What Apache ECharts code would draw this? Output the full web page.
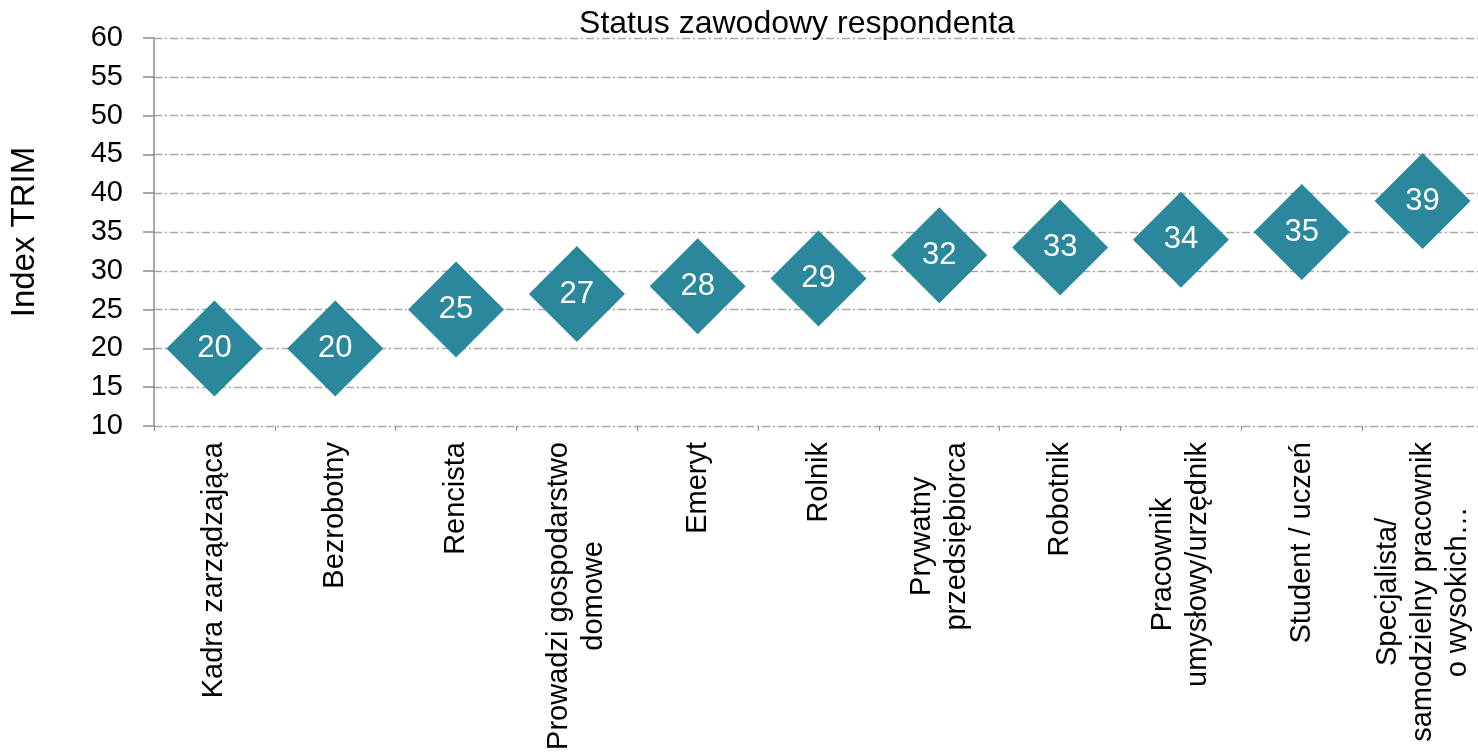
<!DOCTYPE html>
<html>
<head>
<meta charset="utf-8">
<script src="https://cdn.jsdelivr.net/npm/echarts@6/dist/echarts.min.js"></script>
<style>
  html, body { margin: 0; padding: 0; background: #fff; }
  #chart { width: 1478px; height: 756px; }
</style>
</head>
<body>
<div id="chart"></div>
<script>
const chartTitle = 'Status zawodowy respondenta';
const yAxisName = 'Index TRIM';
const categories = [
  'Kadra zarządzająca',
  'Bezrobotny',
  'Rencista',
  'Prowadzi gospodarstwo\ndomowe',
  'Emeryt',
  'Rolnik',
  'Prywatny\nprzedsiębiorca',
  'Robotnik',
  'Pracownik\numysłowy/urzędnik',
  'Student / uczeń',
  'Specjalista/\nsamodzielny pracownik\no wysokich…'
];
const values = [20, 20, 25, 27, 28, 29, 32, 33, 34, 35, 39];
const yMin = 10;
const yMax = 60;
const yStep = 5;

const FONT = '"Liberation Sans", Arial, sans-serif';
const chart = echarts.init(document.getElementById('chart'), null, { renderer: 'canvas' });

chart.setOption({
  animation: false,
  backgroundColor: '#ffffff',
  title: {
    text: chartTitle,
    left: 792,
    top: 3,
    textAlign: 'center',
    textStyle: { fontFamily: FONT, fontSize: 32, fontWeight: 'normal', color: '#000' }
  },
  grid: { left: 154, right: -5, top: 38, bottom: 330, containLabel: false, outerBoundsMode: 'none' },
  xAxis: {
    type: 'category',
    data: categories,
    boundaryGap: true,
    axisLine: { show: false },
    axisTick: { show: true, length: 5, lineStyle: { color: '#8c8c8c', width: 1 } },
    splitLine: { show: false },
    axisLabel: {
      interval: 0,
      rotate: 90,
      margin: 16,
      color: '#000',
      fontFamily: FONT,
      fontSize: 29,
      lineHeight: 35,
      hideOverlap: false,
      formatter: function (v) {
        return v.split('\n').map(function (l) { return '{c|' + l + '}'; }).join('\n');
      },
      rich: {
        c: { align: 'center', fontFamily: FONT, fontSize: 29, lineHeight: 35, color: '#000' }
      }
    }
  },
  yAxis: {
    type: 'value',
    min: yMin,
    max: yMax,
    interval: yStep,
    name: yAxisName,
    nameLocation: 'middle',
    nameRotate: 90,
    nameGap: 113,
    nameTextStyle: { fontFamily: FONT, fontSize: 33, color: '#000' },
    axisLine: { show: true, lineStyle: { color: '#8c8c8c', width: 1.5 } },
    axisTick: { show: true, length: 11, lineStyle: { color: '#8c8c8c', width: 1.5 } },
    axisLabel: { margin: 31, color: '#000', fontFamily: FONT, fontSize: 29 },
    splitLine: {
      show: true,
      lineStyle: { color: '#a6a6a6', width: 1.3, type: [8, 3, 2, 3] }
    }
  },
  series: [{
    type: 'scatter',
    data: values,
    symbol: 'diamond',
    symbolSize: [96, 96],
    itemStyle: { color: '#2b889c', opacity: 1 },
    label: {
      show: true,
      position: 'inside',
      color: '#ffffff',
      fontFamily: FONT,
      fontSize: 31
    },
    z: 5
  }]
});
</script>
</body>
</html>
